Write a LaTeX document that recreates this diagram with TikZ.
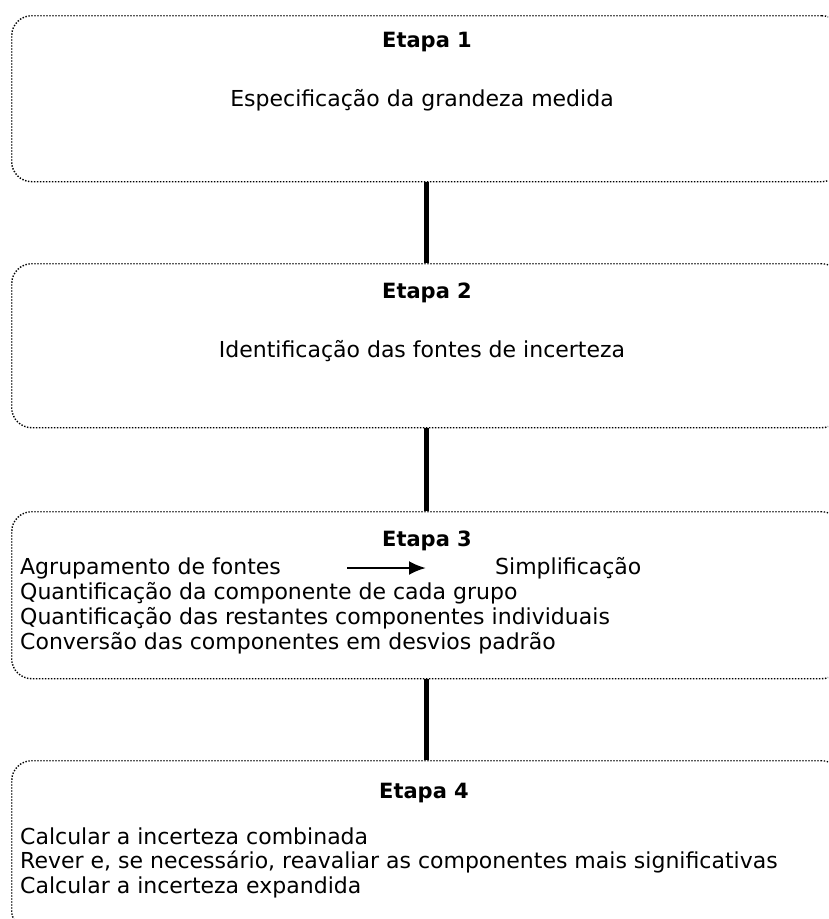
\documentclass[tikz,border=0pt]{standalone}
\usepackage{fontspec}
\setmainfont{DejaVu Sans}
\usetikzlibrary{positioning,calc}
\usetikzlibrary{arrows.meta}
\tikzstyle{arrow} = [line width=2.6pt,-{Latex[length=17pt,width=14pt]}]
\tikzstyle{link} = [line width=5pt]

\begin{document}
\begin{tikzpicture}[x=1pt,y=-1pt,
  stage/.style={draw, line width=1.4pt, dash pattern=on 1.4pt off 1.6pt, rounded corners=20pt, anchor=north west, minimum width=830pt, minimum height=#1, inner sep=0pt},
  title/.style={font=\fontsize{21}{23}\selectfont\bfseries, inner sep=0pt},
  body/.style={font=\fontsize{22}{24}\selectfont, inner sep=0pt, text height=16pt, text depth=4pt},
  item/.style={body, anchor=west}]

\useasboundingbox (0,0) rectangle (828,919);
\clip (0,0) rectangle (828,919);

% STAGES

\node [stage=166pt] (stage1) at (11,15) {};
\node [stage=164pt] (stage2) at (11,263) {};
\node [stage=167pt] (stage3) at (11,511) {};
\node [stage=170pt] (stage4) at (11,760) {};

% LINKS

\draw [link] (stage1.south) -- (stage2.north);
\draw [link] (stage2.south) -- (stage3.north);
\draw [link] (stage3.south) -- (stage4.north);

% TEXTS

\node [title] (title1) at (427,42) {Etapa 1};
\node [body] (spec) at (422,100) {Especificação da grandeza medida};

\node [title] (title2) at (427,293) {Etapa 2};
\node [body] (ident) at (422,351) {Identificação das fontes de incerteza};

\node [title] (title3) at (427,541) {Etapa 3};
\node [item] (group) at (20,568) {Agrupamento de fontes};
\node [item] (simp) at (495,568) {Simplificação};
\node [item] (quantgroup) at (20,593) {Quantificação da componente de cada grupo};
\node [item] (quantrest) at (20,618) {Quantificação das restantes componentes individuais};
\node [item] (conv) at (20,643) {Conversão das componentes em desvios padrão};
\coordinate (arrowstart) at (347,568);
\coordinate (arrowend) at (426,568);
\draw [arrow] (arrowstart) -- (arrowend);

\node [title] (title4) at (424,793) {Etapa 4};
\node [item] (comb) at (20,838) {Calcular a incerteza combinada};
\node [item] (review) at (20,862) {Rever e, se necessário, reavaliar as componentes mais significativas};
\node [item] (expand) at (20,887) {Calcular a incerteza expandida};

\end{tikzpicture}
\end{document}
